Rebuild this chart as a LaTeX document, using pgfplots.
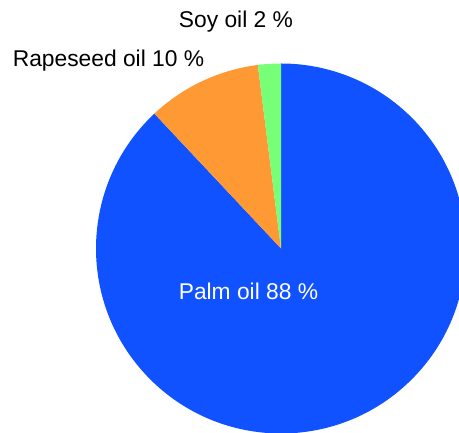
\documentclass[border=0pt]{standalone}
\usepackage{pgfplots}
\usepackage{pgfplotstable}
\pgfplotsset{compat=1.18}
\usepackage{fontspec}
\setmainfont{Liberation Sans}
\definecolor{palmblue}{RGB}{16,82,255}
\definecolor{rapeorange}{RGB}{255,153,51}
\definecolor{soygreen}{RGB}{119,255,119}
\pgfplotstableread{
name value
Palm 88
Rapeseed 10
Soy 2
}\piedata
\pgfplotstablegetelem{0}{value}\of\piedata \let\vA\pgfplotsretval
\pgfplotstablegetelem{1}{value}\of\piedata \let\vB\pgfplotsretval
\pgfplotstablegetelem{2}{value}\of\piedata \let\vC\pgfplotsretval
\pgfmathsetmacro\aA{90-3.6*\vA}
\pgfmathsetmacro\aB{\aA-3.6*\vB}
\pgfmathsetmacro\aC{\aB-3.6*\vC}
\begin{document}%
\begin{tikzpicture}
\begin{axis}[
  at={(0,0)}, anchor=origin,
  x=1pt, y=1pt, disabledatascaling,
  xmin=0, xmax=459, ymin=0, ymax=433,
  hide axis, clip=true,
]
\def\cx{281}\def\cy{184.5}\def\R{185pt}
\fill[palmblue] (axis cs:\cx,\cy) -- ([shift={(\aA:\R)}]axis cs:\cx,\cy) arc[start angle=\aA, end angle=90, radius=\R] -- cycle;
\fill[rapeorange] (axis cs:\cx,\cy) -- ([shift={(\aB:\R)}]axis cs:\cx,\cy) arc[start angle=\aB, end angle=\aA, radius=\R] -- cycle;
\fill[soygreen] (axis cs:\cx,\cy) -- ([shift={(\aC:\R)}]axis cs:\cx,\cy) arc[start angle=\aC, end angle=\aB, radius=\R] -- cycle;
\node[anchor=base, inner sep=0pt, font=\fontsize{22.8}{27}\selectfont] at (axis cs:236,405.5) {Soy oil \vC\ \%};
\node[anchor=base, inner sep=0pt, font=\fontsize{22.8}{27}\selectfont] at (axis cs:108.5,366.3) {Rapeseed oil \vB\ \%};
\node[anchor=base, inner sep=0pt, text=white, font=\fontsize{22.8}{27}\selectfont] at (axis cs:248.5,133) {Palm oil \vA\ \%};
\end{axis}
\pgfresetboundingbox
\path[use as bounding box] (0,0) rectangle (459pt,433pt);
\end{tikzpicture}%
\end{document}
